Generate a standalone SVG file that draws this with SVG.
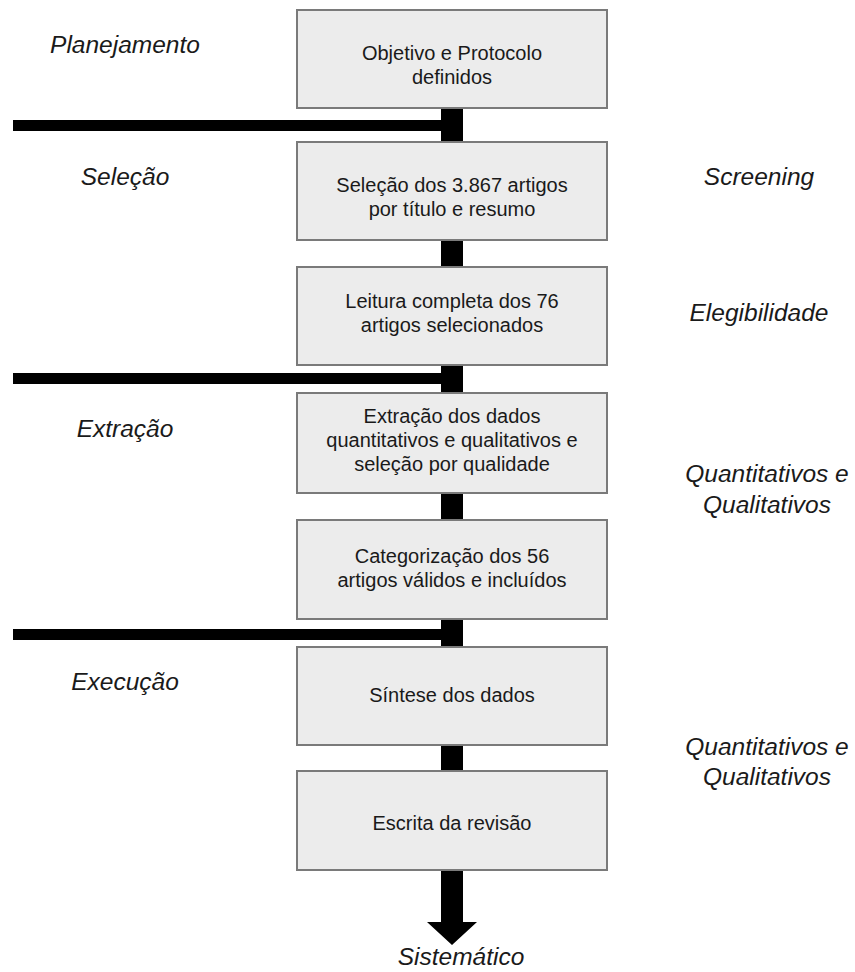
<svg xmlns="http://www.w3.org/2000/svg" width="855" height="972" viewBox="0 0 855 972">
<style>
.box{fill:#ececec;stroke:#7a7a7a;stroke-width:2}
.bt{font-family:"Liberation Sans",Arial,sans-serif;font-size:20px;fill:#1a1a1a;text-anchor:middle}
.lb{font-family:"Liberation Sans",Arial,sans-serif;font-size:24.5px;font-style:italic;fill:#1a1a1a;text-anchor:middle}
.bar{fill:#000}
</style>
<rect width="855" height="972" fill="#fff"/>
<g id="connectors">
<rect class="bar" x="441" y="108" width="22" height="34"/>
<rect class="bar" x="441" y="240" width="22" height="27"/>
<rect class="bar" x="441" y="365" width="22" height="28"/>
<rect class="bar" x="441" y="493" width="22" height="27"/>
<rect class="bar" x="441" y="619" width="22" height="28"/>
<rect class="bar" x="441" y="745" width="22" height="26"/>
<rect class="bar" x="13" y="120" width="440" height="11"/>
<rect class="bar" x="13" y="373" width="440" height="11"/>
<rect class="bar" x="13" y="629" width="440" height="11"/>
<polygon class="bar" points="441,870 463,870 463,922 477,922 452,945 427,922 441,922"/>
</g>
<g id="n1"><rect class="box" x="297" y="10" width="310" height="98"/>
<text class="bt" x="452" y="60">Objetivo e Protocolo</text><text class="bt" x="452" y="84">definidos</text></g>
<g id="n2"><rect class="box" x="297" y="142" width="310" height="98"/>
<text class="bt" x="452" y="192">Seleção dos 3.867 artigos</text><text class="bt" x="452" y="216">por título e resumo</text></g>
<g id="n3"><rect class="box" x="297" y="267" width="310" height="98"/>
<text class="bt" x="452" y="308">Leitura completa dos 76</text><text class="bt" x="452" y="332">artigos selecionados</text></g>
<g id="n4"><rect class="box" x="297" y="393" width="310" height="100"/>
<text class="bt" x="452" y="423">Extração dos dados</text><text class="bt" x="452" y="447">quantitativos e qualitativos e</text><text class="bt" x="452" y="471">seleção por qualidade</text></g>
<g id="n5"><rect class="box" x="297" y="520" width="310" height="99"/>
<text class="bt" x="452" y="563">Categorização dos 56</text><text class="bt" x="452" y="587">artigos válidos e incluídos</text></g>
<g id="n6"><rect class="box" x="297" y="647" width="310" height="98"/>
<text class="bt" x="452" y="702">Síntese dos dados</text></g>
<g id="n7"><rect class="box" x="297" y="771" width="310" height="99"/>
<text class="bt" x="452" y="830">Escrita da revisão</text></g>
<g id="labels">
<text class="lb" x="125" y="53">Planejamento</text>
<text class="lb" x="125" y="185">Seleção</text>
<text class="lb" x="125" y="437">Extração</text>
<text class="lb" x="125" y="690">Execução</text>
<text class="lb" x="759" y="185">Screening</text>
<text class="lb" x="759" y="321">Elegibilidade</text>
<text class="lb" x="767" y="482">Quantitativos e</text>
<text class="lb" x="767" y="513">Qualitativos</text>
<text class="lb" x="767" y="755">Quantitativos e</text>
<text class="lb" x="767" y="785">Qualitativos</text>
<text class="lb" x="461" y="965">Sistemático</text>
</g>
</svg>
